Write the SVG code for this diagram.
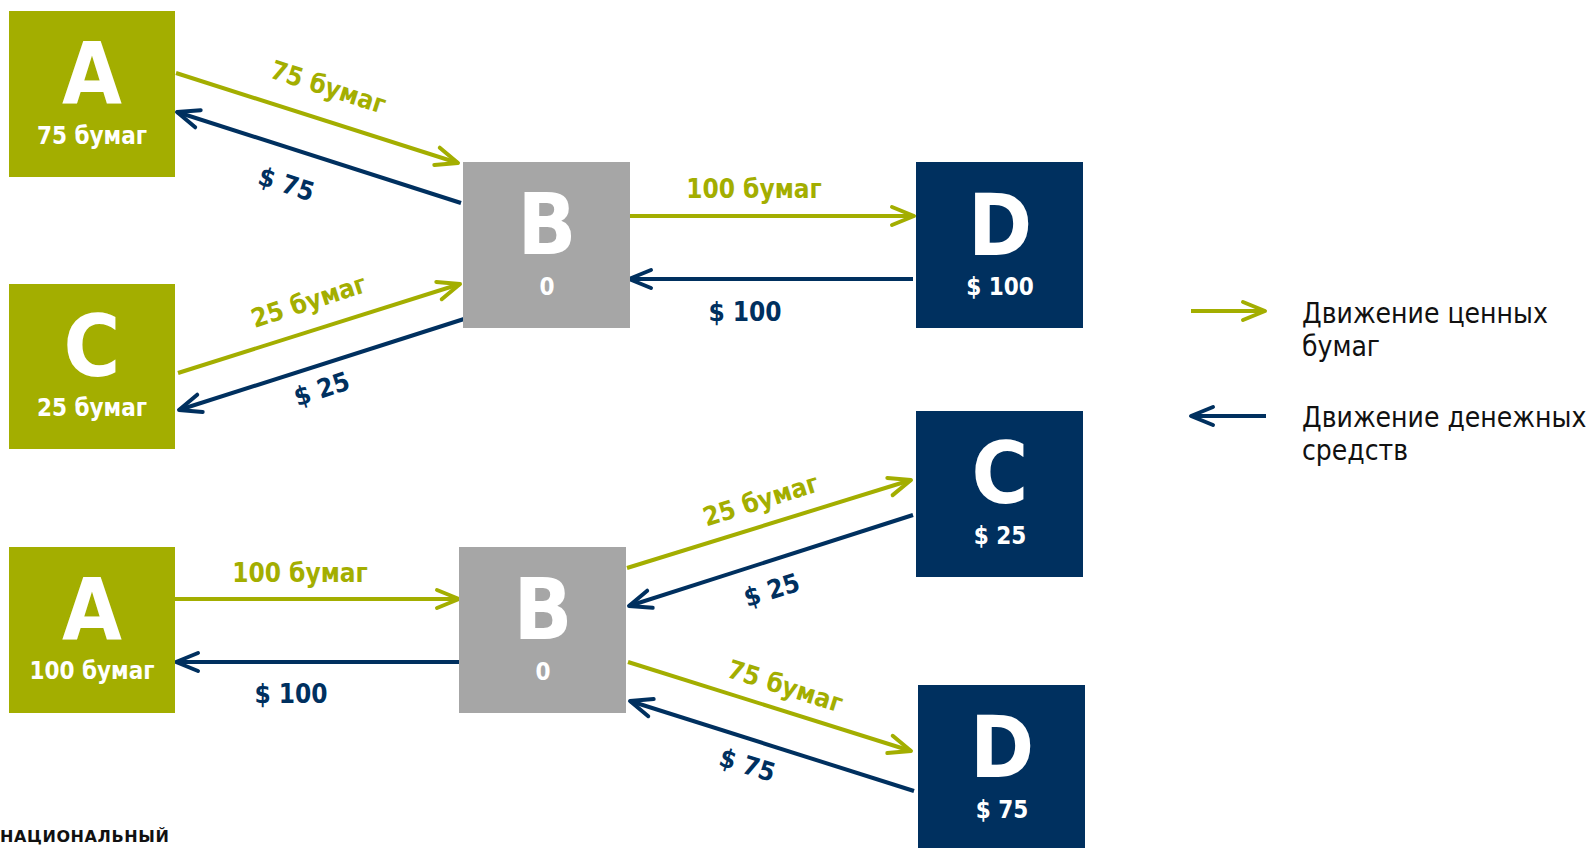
<svg xmlns="http://www.w3.org/2000/svg" width="1589" height="848" viewBox="0 0 1589 848">
<style>
.g{fill:#A3AE00}
.n{fill:#00305F}
.gr{fill:#A6A6A6}
.big{font-family:"DejaVu Sans Condensed","DejaVu Sans",sans-serif;font-stretch:condensed;font-weight:bold;font-size:86px;fill:#fff;text-anchor:middle}
.sub{font-family:"DejaVu Sans Condensed","DejaVu Sans",sans-serif;font-stretch:condensed;font-weight:bold;font-size:24px;fill:#fff;text-anchor:middle}
.lg{font-family:"DejaVu Sans Condensed","DejaVu Sans",sans-serif;font-stretch:condensed;font-weight:bold;font-size:26px;fill:#A3AE00;text-anchor:middle}
.ln{font-family:"DejaVu Sans Condensed","DejaVu Sans",sans-serif;font-stretch:condensed;font-weight:bold;font-size:26px;fill:#00305F;text-anchor:middle}
.leg{font-family:"DejaVu Sans Condensed","DejaVu Sans",sans-serif;font-stretch:condensed;font-size:28px;fill:#111}
.cg{stroke:#A3AE00;stroke-width:4;fill:none}
.cn{stroke:#00305F;stroke-width:4;fill:none}
</style>
<defs>
<marker id="ag" markerUnits="userSpaceOnUse" markerWidth="40" markerHeight="40" viewBox="-30 -20 40 40" refX="0" refY="0" orient="auto" overflow="visible">
<path d="M-22,-9 L0,0 L-22,9" stroke="#A3AE00" stroke-width="4" fill="none" stroke-linecap="round" stroke-linejoin="round"/>
</marker>
<marker id="an" markerUnits="userSpaceOnUse" markerWidth="40" markerHeight="40" viewBox="-30 -20 40 40" refX="0" refY="0" orient="auto" overflow="visible">
<path d="M-22,-9 L0,0 L-22,9" stroke="#00305F" stroke-width="4" fill="none" stroke-linecap="round" stroke-linejoin="round"/>
</marker>
</defs>
<rect width="1589" height="848" fill="#fff"/>

<g id="connectors">
<line class="cg" x1="176" y1="73" x2="458" y2="163" marker-end="url(#ag)"/>
<line class="cn" x1="461" y1="203" x2="177" y2="112" marker-end="url(#an)"/>
<line class="cg" x1="178" y1="373" x2="460" y2="284" marker-end="url(#ag)"/>
<line class="cn" x1="464" y1="319" x2="179" y2="410" marker-end="url(#an)"/>
<line class="cg" x1="630" y1="216" x2="914" y2="216" marker-end="url(#ag)"/>
<line class="cn" x1="913" y1="279" x2="629" y2="279" marker-end="url(#an)"/>
<line class="cg" x1="175" y1="599" x2="459" y2="599" marker-end="url(#ag)"/>
<line class="cn" x1="459" y1="662" x2="176" y2="662" marker-end="url(#an)"/>
<line class="cg" x1="627" y1="568" x2="911" y2="480" marker-end="url(#ag)"/>
<line class="cn" x1="913" y1="515" x2="629" y2="606" marker-end="url(#an)"/>
<line class="cg" x1="628" y1="662" x2="911" y2="751" marker-end="url(#ag)"/>
<line class="cn" x1="914" y1="791" x2="630" y2="701" marker-end="url(#an)"/>
<line class="cg" x1="1191" y1="311" x2="1265" y2="311" marker-end="url(#ag)"/>
<line class="cn" x1="1266" y1="416" x2="1191" y2="416" marker-end="url(#an)"/>
</g>

<g id="connector-labels">
<text class="lg" transform="translate(328 88) rotate(18)" y="8">75 бумаг</text>
<text class="ln" transform="translate(286 185) rotate(18)" y="8">$ 75</text>
<text class="lg" transform="translate(309 302) rotate(-18)" y="8">25 бумаг</text>
<text class="ln" transform="translate(322 390) rotate(-18)" y="8">$ 25</text>
<text class="lg" x="754" y="198">100 бумаг</text>
<text class="ln" x="745" y="321">$ 100</text>
<text class="lg" x="300" y="582">100 бумаг</text>
<text class="ln" x="291" y="703">$ 100</text>
<text class="lg" transform="translate(761 501) rotate(-17.5)" y="8">25 бумаг</text>
<text class="ln" transform="translate(772 591) rotate(-17.5)" y="8">$ 25</text>
<text class="lg" transform="translate(785 687) rotate(17.5)" y="8">75 бумаг</text>
<text class="ln" transform="translate(747 766) rotate(17.5)" y="8">$ 75</text>
</g>

<g id="node-A1">
<rect class="g" x="9" y="11" width="166" height="166"/>
<text class="big" x="92" y="103">A</text>
<text class="sub" x="92" y="144">75 бумаг</text>
</g>
<g id="node-C1">
<rect class="g" x="9" y="284" width="166" height="165"/>
<text class="big" x="92" y="376">C</text>
<text class="sub" x="92" y="416">25 бумаг</text>
</g>
<g id="node-B1">
<rect class="gr" x="463" y="162" width="167" height="166"/>
<text class="big" x="547" y="254">B</text>
<text class="sub" x="547" y="295">0</text>
</g>
<g id="node-D1">
<rect class="n" x="916" y="162" width="167" height="166"/>
<text class="big" x="1000" y="255">D</text>
<text class="sub" x="1000" y="295">$ 100</text>
</g>
<g id="node-A2">
<rect class="g" x="9" y="547" width="166" height="166"/>
<text class="big" x="92" y="639">A</text>
<text class="sub" x="92" y="679">100 бумаг</text>
</g>
<g id="node-B2">
<rect class="gr" x="459" y="547" width="167" height="166"/>
<text class="big" x="543" y="639">B</text>
<text class="sub" x="543" y="680">0</text>
</g>
<g id="node-C2">
<rect class="n" x="916" y="411" width="167" height="166"/>
<text class="big" x="1000" y="503">C</text>
<text class="sub" x="1000" y="544">$ 25</text>
</g>
<g id="node-D2">
<rect class="n" x="918" y="685" width="167" height="170"/>
<text class="big" x="1002" y="777">D</text>
<text class="sub" x="1002" y="818">$ 75</text>
</g>

<g id="legend">
<text class="leg" x="1302" y="323">Движение ценных</text>
<text class="leg" x="1302" y="356">бумаг</text>
<text class="leg" x="1302" y="427">Движение денежных</text>
<text class="leg" x="1302" y="460">средств</text>
</g>

<text x="0" y="842" font-family="DejaVu Sans, sans-serif" font-weight="bold" font-size="16" letter-spacing="0.6" fill="#111">НАЦИОНАЛЬНЫЙ</text>
</svg>
